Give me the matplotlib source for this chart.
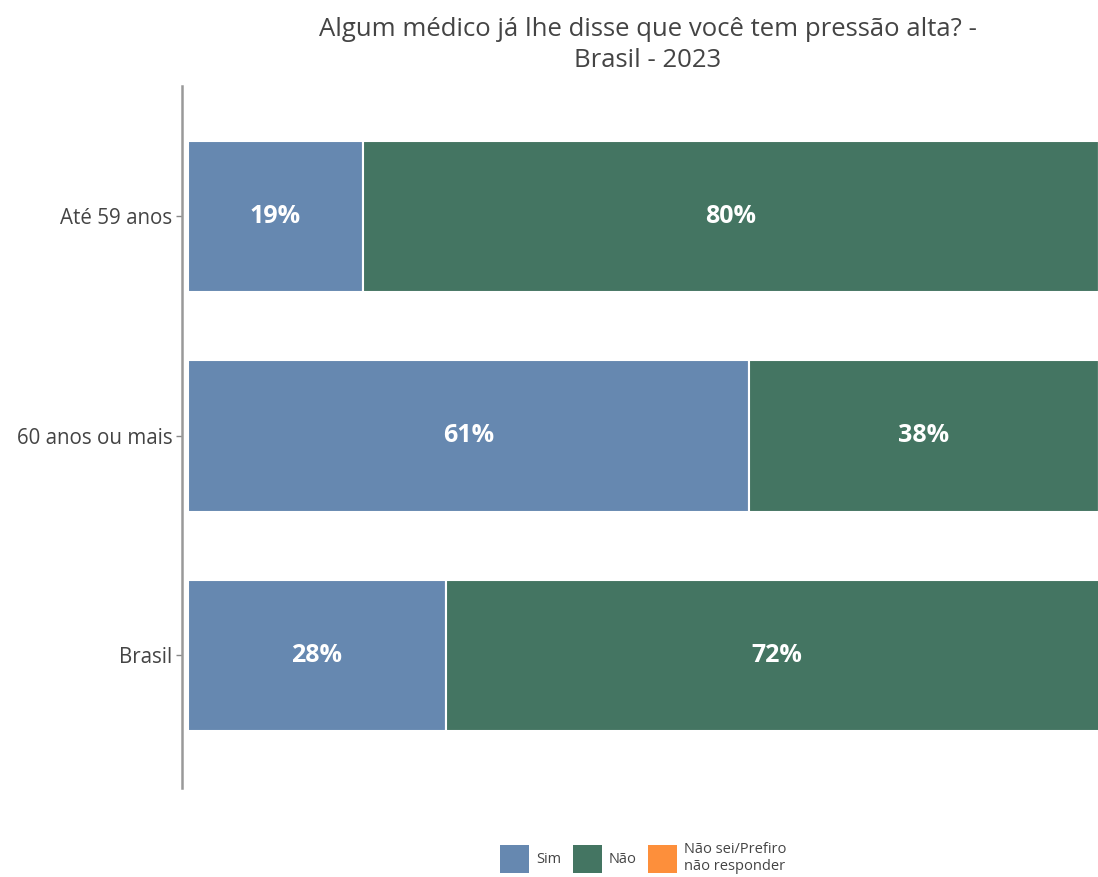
import matplotlib.pyplot as plt
from matplotlib.patches import Patch

# data
categorias = ["Brasil", "60 anos ou mais", "Até 59 anos"]
sim = [28, 61, 19]
nao = [72, 38, 80]
nao_sei = [0, 1, 1]
series_nomes = ["Sim", "Não", "Não sei/Prefiro\nnão responder"]
cores = ["#6688b0", "#447562", "#fd8f3b"]

plt.rcParams['font.family'] = ['Open Sans', 'DejaVu Sans']

fig = plt.figure(figsize=(10.98, 8.77), dpi=100)
ax = fig.add_axes([182/1098, 89/877, 926/1098, 702/877])

y = list(range(len(categorias)))
esq = [0] * len(categorias)
for vals, cor in zip([sim, nao, nao_sei], cores):
    ax.barh(y, vals, left=esq, height=0.69, color=cor, edgecolor='white', linewidth=1.5)
    for yi, v, l in zip(y, vals, esq):
        if v >= 5:
            ax.text(l + v / 2, yi, f"{v}%", ha='center', va='center', color='white',
                    fontsize=18, fontweight='bold')
    esq = [a + b for a, b in zip(esq, vals)]

ax.set_xlim(-0.65, 100)
ax.set_ylim(-0.604, 2.594)
ax.set_yticks(y)
ax.set_yticklabels(categorias, fontsize=14.8, color='#444444')
ax.tick_params(axis='y', length=4, color='#888888', width=1, pad=3)
ax.set_xticks([])
for s in ['top', 'right', 'bottom']:
    ax.spines[s].set_visible(False)
ax.spines['left'].set_color('#999999')
ax.spines['left'].set_linewidth(1.8)

fig.text(0.59, 0.981, "Algum médico já lhe disse que você tem pressão alta? -\nBrasil - 2023",
         ha='center', va='top', fontsize=18.5, color='#444444', linespacing=1.32)

handles = [Patch(facecolor=c, edgecolor='none') for c in cores]
fig.legend(handles, series_nomes, loc='center', bbox_to_anchor=(0.586, 0.022), ncol=3,
           frameon=False, fontsize=10.5, handlelength=2.0, handleheight=2.6,
           handletextpad=0.5, columnspacing=0.75, labelcolor='#444444')

fig.savefig('out.png', dpi=100)
